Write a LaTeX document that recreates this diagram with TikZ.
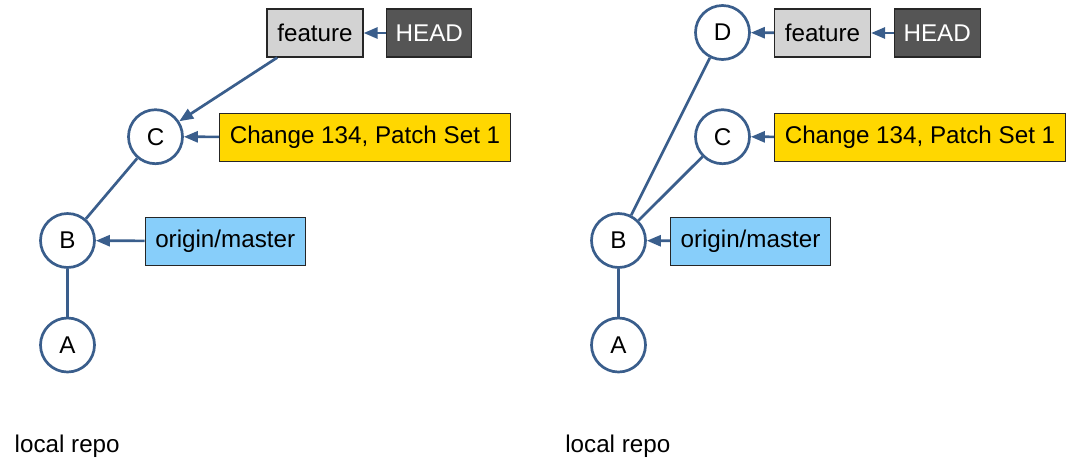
\documentclass[tikz,border=0pt]{standalone}
\usepackage{fontspec}
\setmainfont{Liberation Sans}
\usetikzlibrary{arrows.meta}
\definecolor{edgeblue}{RGB}{58,94,140}
\definecolor{featgray}{RGB}{211,211,211}
\definecolor{headgray}{RGB}{85,85,85}
\definecolor{changegold}{RGB}{255,215,0}
\definecolor{originblue}{RGB}{135,206,250}
\begin{document}
\begin{tikzpicture}[x=1pt,y=-1pt,
  every node/.style={font=\fontsize{24.2}{29}\selectfont},
  commit/.style={circle,draw=edgeblue,line width=2.7pt,fill=white,minimum size=54pt,inner sep=0pt},
  refbox/.style={rectangle,draw=black!85,line width=1.2pt,minimum height=48pt,inner sep=0pt},
  link/.style={draw=edgeblue,line width=2.7pt},
  pointer/.style={link,-{Triangle[length=14pt,width=11pt]}},
  caption/.style={inner sep=0pt,anchor=base}
]
\useasboundingbox (0,0) rectangle (1071,475);
% ---------- left panel ----------
\node[commit] (lA) at (67.5,345) {A};
\node[commit] (lB) at (67.5,240.5) {B};
\node[commit] (lC) at (155.5,136.7) {C};
\node[refbox,fill=featgray,minimum width=96pt] (lfeat) at (315,33) {feature};
\node[refbox,fill=headgray,text=white,minimum width=85pt] (lhead) at (429.3,33) {HEAD};
\node[refbox,fill=changegold,minimum width=291pt] (lchg) at (365,137.3) {Change 134, Patch Set 1};
\node[refbox,fill=originblue,minimum width=160pt] (lorig) at (225.2,241.3) {origin/master};
\draw[link] (lA) -- (lB);
\draw[link] (lB) -- (lC);
\draw[pointer] (lfeat) -- (lC);
\draw[pointer] (lhead) -- (lfeat);
\draw[pointer] (lchg) -- (lC);
\draw[pointer] (lorig) -- (lB);
\node[caption] (lcap) at (67.2,452.3) {local repo};
% ---------- right panel ----------
\node[commit] (rA) at (618.5,345) {A};
\node[commit] (rB) at (618.5,240.5) {B};
\node[commit] (rC) at (722.5,136.7) {C};
\node[commit] (rD) at (722.5,32.5) {D};
\node[refbox,fill=featgray,minimum width=96pt] (rfeat) at (822.5,33) {feature};
\node[refbox,fill=headgray,text=white,minimum width=86pt] (rhead) at (937.2,33) {HEAD};
\node[refbox,fill=changegold,minimum width=291pt] (rchg) at (920,137.3) {Change 134, Patch Set 1};
\node[refbox,fill=originblue,minimum width=160pt] (rorig) at (750.5,241.3) {origin/master};
\draw[link] (rA) -- (rB);
\draw[link] (rB) -- (rC);
\draw[link] (rB) -- (rD);
\draw[pointer] (rfeat) -- (rD);
\draw[pointer] (rhead) -- (rfeat);
\draw[pointer] (rchg) -- (rC);
\draw[pointer] (rorig) -- (rB);
\node[caption] (rcap) at (617.8,452.3) {local repo};
\end{tikzpicture}
\end{document}
